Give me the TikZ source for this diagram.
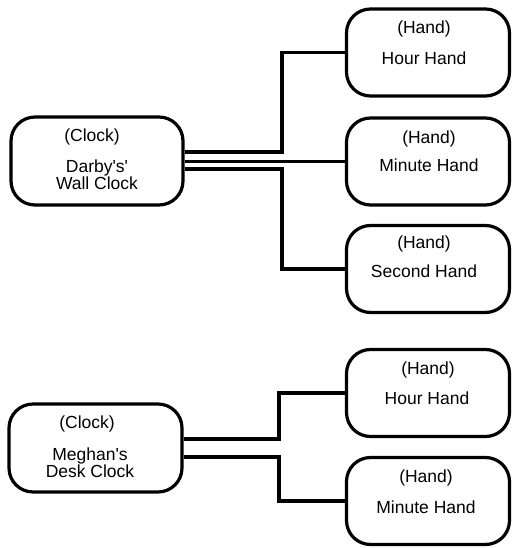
\documentclass[tikz,border=0pt]{standalone}
\usepackage{fontspec}
\setmainfont{Liberation Sans}[Ligatures=TeXOff]
\usetikzlibrary{calc}
\begin{document}
\begin{tikzpicture}[x=1pt,y=-1pt,
  clockbox/.style={draw, line width=3.2pt, rounded corners=24pt, minimum width=172pt, minimum height=88pt, inner sep=0pt},
  handbox/.style={draw, line width=3.2pt, rounded corners=24pt, minimum width=163pt, minimum height=87pt, inner sep=0pt},
  lbl/.style={font=\fontsize{17.5}{17.5}\selectfont, inner sep=0pt, align=center},
  wire/.style={line width=3.2pt}]
\useasboundingbox (0,0) rectangle (512,548);

% clock boxes
\node[clockbox] (dw) at (97,161) {};
\node[lbl] (dwt) at (92,137) {(Clock)};
\node[lbl] (dwn) at (97,174.5) {Darby's'\\Wall Clock};

\node[clockbox, minimum width=173pt] (md) at (95.5,448) {};
\node[lbl] (mdt) at (87,424) {(Clock)};
\node[lbl] (mdn) at (90,462.5) {Meghan's\\Desk Clock};

% hand boxes (Darby)
\node[handbox] (h1) at (428,52.5) {};
\node[lbl] (h1t) at (424,29) {(Hand)};
\node[lbl] (h1n) at (424,58) {Hour Hand};

\node[handbox] (m1) at (428,161.5) {};
\node[lbl] (m1t) at (429,139) {(Hand)};
\node[lbl] (m1n) at (429,165) {Minute Hand};

\node[handbox] (s1) at (428,269) {};
\node[lbl] (s1t) at (424,244) {(Hand)};
\node[lbl] (s1n) at (424,271) {Second Hand};

% hand boxes (Meghan)
\node[handbox] (h2) at (428,393) {};
\node[lbl] (h2t) at (428,370) {(Hand)};
\node[lbl] (h2n) at (427,398) {Hour Hand};

\node[handbox] (m2) at (428,501) {};
\node[lbl] (m2t) at (426,478) {(Hand)};
\node[lbl] (m2n) at (426,507) {Minute Hand};

% junction x positions
\coordinate (j1) at (282,0);
\coordinate (j2) at (279,0);

% connectors
\draw[wire] ($(dw.east)+(0,-9)$) -| (j1 |- h1.west) -- (h1.west);
\draw[wire] ($(dw.east)+(0,0.5)$) -- (m1.west);
\draw[wire] ($(dw.east)+(0,8)$) -| (j1 |- s1.west) -- (s1.west);

\draw[wire] ($(md.east)+(0,-9)$) -| (j2 |- h2.west) -- (h2.west);
\draw[wire] ($(md.east)+(0,9)$) -| (j2 |- m2.west) -- (m2.west);
\end{tikzpicture}
\end{document}
